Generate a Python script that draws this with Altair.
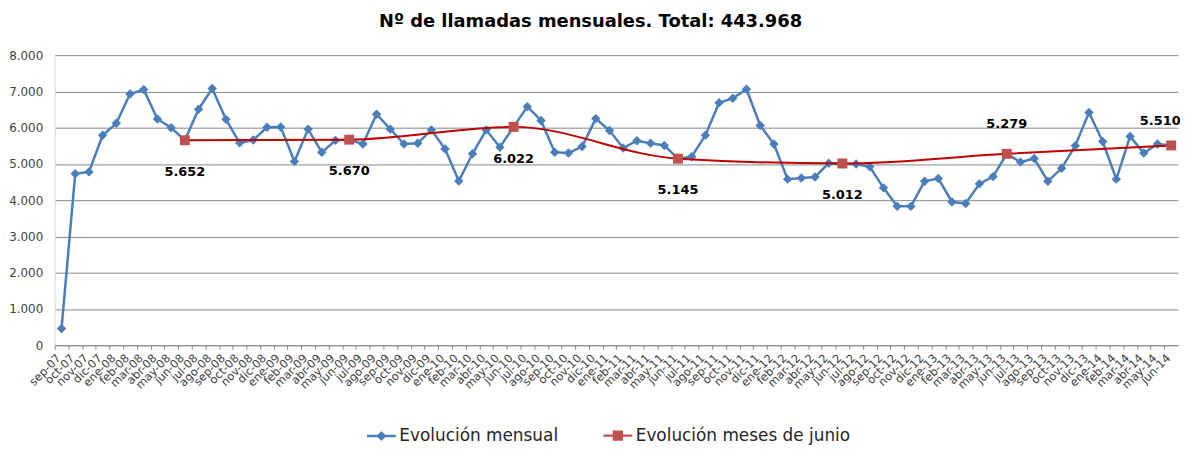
import altair as alt
import pandas as pd

meses = [
    "sep-07", "oct-07", "nov-07", "dic-07",
    "ene-08", "feb-08", "mar-08", "abr-08", "may-08", "jun-08", "jul-08", "ago-08", "sep-08", "oct-08", "nov-08", "dic-08",
    "ene-09", "feb-09", "mar-09", "abr-09", "may-09", "jun-09", "jul-09", "ago-09", "sep-09", "oct-09", "nov-09", "dic-09",
    "ene-10", "feb-10", "mar-10", "abr-10", "may-10", "jun-10", "jul-10", "ago-10", "sep-10", "oct-10", "nov-10", "dic-10",
    "ene-11", "feb-11", "mar-11", "abr-11", "may-11", "jun-11", "jul-11", "ago-11", "sep-11", "oct-11", "nov-11", "dic-11",
    "ene-12", "feb-12", "mar-12", "abr-12", "may-12", "jun-12", "jul-12", "ago-12", "sep-12", "oct-12", "nov-12", "dic-12",
    "ene-13", "feb-13", "mar-13", "abr-13", "may-13", "jun-13", "jul-13", "ago-13", "sep-13", "oct-13", "nov-13", "dic-13",
    "ene-14", "feb-14", "mar-14", "abr-14", "may-14", "jun-14",
]

mensual = [
    460, 4730, 4780, 5790, 6120, 6930, 7050, 6240, 6000, 5652,
    6510, 7080, 6230, 5580, 5660, 6010, 6020, 5070, 5960, 5320, 5650, 5670,
    5550, 6370, 5960, 5550, 5570, 5940, 5410, 4530, 5280, 5940, 5460, 6022,
    6580, 6200, 5320, 5300, 5480, 6250, 5920, 5440, 5640, 5570, 5510, 5145,
    5200, 5790, 6690, 6810, 7060, 6060, 5550, 4580, 4610, 4640, 5020, 5012,
    5000, 4920, 4340, 3830, 3830, 4520, 4600, 3950, 3910, 4450, 4650, 5279,
    5050, 5150, 4520, 4880, 5500, 6420, 5620, 4580, 5760, 5300, 5550, 5510,
]

meses_junio = ["jun-08", "jun-09", "jun-10", "jun-11", "jun-12", "jun-13", "jun-14"]
junio = [5652, 5670, 6022, 5145, 5012, 5279, 5510]

etiquetas_abajo = ["jun-08", "jun-09", "jun-10", "jun-11", "jun-12"]
etiquetas_arriba = ["jun-13"]
etiqueta_final = ["jun-14"]

series = ["Evolución mensual", "Evolución meses de junio"]
y_ticks = [0, 1000, 2000, 3000, 4000, 5000, 6000, 7000, 8000]
titulo = "Nº de llamadas mensuales. Total: 443.968"

df_m = pd.DataFrame({"mes": meses, "valor": mensual})
df_j = pd.DataFrame({"mes": meses_junio, "valor": junio})

FONT = "DejaVu Sans"
BLUE = "#4A7EBB"
RED_LINE = "#C00000"
RED_SQ = "#C0504D"
GRID = "#868686"
TXT = "#404040"

fmt = "replace(format(datum.valor, ','), ',', '.')"

x_enc = alt.X(
    "mes:N",
    sort=meses,
    scale=alt.Scale(domain=meses, type="point", padding=0.5),
    axis=alt.Axis(
        title=None, labelAngle=-45, labelFontSize=11.5, labelColor=TXT, labelFont=FONT,
        domainColor=GRID, tickColor=GRID, tickSize=4, tickOffset=-6.9, labelPadding=3,
        grid=False, labelOverlap=False, labelBound=False, labelFlush=False,
    ),
)
y_enc = alt.Y(
    "valor:Q",
    scale=alt.Scale(domain=[0, 8000], nice=False, zero=True),
    axis=alt.Axis(
        title=None, values=y_ticks,
        labelExpr="replace(format(datum.value, ','), ',', '.')",
        grid=True, gridColor=GRID, gridWidth=1, domainColor="#D9D9D9",
        ticks=False, labelFontSize=12, labelColor=TXT, labelFont=FONT, labelPadding=12,
    ),
)

base_m = alt.Chart(df_m).encode(x=x_enc, y=y_enc)
base_j = alt.Chart(df_j).encode(x=x_enc, y=y_enc)

linea_m = base_m.mark_line(color=BLUE, strokeWidth=2.5)
puntos_m = base_m.mark_point(shape="diamond", filled=True, size=90, color=BLUE, opacity=1)
linea_j = base_j.mark_line(color=RED_LINE, strokeWidth=2, interpolate="monotone")
puntos_j = base_j.mark_point(shape="square", filled=True, size=100, color=RED_SQ, opacity=1)

txt_kw = dict(font=FONT, fontSize=13, fontWeight="bold", color="black")
lab_abajo = base_j.transform_filter(
    alt.FieldOneOfPredicate(field="mes", oneOf=etiquetas_abajo)
).transform_calculate(label=fmt).mark_text(dy=32, **txt_kw).encode(text="label:N")
lab_arriba = base_j.transform_filter(
    alt.FieldOneOfPredicate(field="mes", oneOf=etiquetas_arriba)
).transform_calculate(label=fmt).mark_text(dy=-30, **txt_kw).encode(text="label:N")
lab_final = base_j.transform_filter(
    alt.FieldOneOfPredicate(field="mes", oneOf=etiqueta_final)
).transform_calculate(label=fmt).mark_text(dy=-25, dx=-11, **txt_kw).encode(text="label:N")

path_diamante = "M-1,0L1,0M0,-0.22L0.22,0L0,0.22L-0.22,0Z"
path_cuadrado = "M-1,0L1,0M-0.27,-0.27L0.27,-0.27L0.27,0.27L-0.27,0.27Z"

leg = alt.Legend(title=None, orient="none", legendX=313, legendY=367, direction="horizontal")
leyenda = alt.Chart(df_m).transform_filter("false").transform_calculate(
    serie="'x'"
).mark_point(strokeWidth=2.5, opacity=1).encode(
    shape=alt.Shape("serie:N", scale=alt.Scale(domain=series, range=[path_diamante, path_cuadrado]), legend=leg),
    fill=alt.Fill("serie:N", scale=alt.Scale(domain=series, range=[BLUE, RED_SQ]), legend=leg),
    stroke=alt.Stroke("serie:N", scale=alt.Scale(domain=series, range=[BLUE, RED_SQ]), legend=leg),
)

chart = alt.layer(
    linea_m, puntos_m, linea_j, puntos_j, lab_abajo, lab_arriba, lab_final, leyenda
).properties(
    width=1131,
    height=292,
    autosize=alt.AutoSizeParams(type="none"),
    padding={"left": 47, "top": 46, "right": 2, "bottom": 100},
    title=alt.Title(titulo, font=FONT, fontSize=18, fontWeight="bold", color="black",
                    anchor="middle", dx=-26, offset=18),
    background="white",
).configure_view(
    stroke=None
).configure_legend(
    symbolSize=841, symbolStrokeWidth=2.5, labelFontSize=17, labelFont=FONT,
    labelColor="#262626", columnPadding=40, labelOffset=2, symbolOpacity=1, labelLimit=400,
)

chart.save("out.html", embed_options={"renderer": "svg", "actions": False})
